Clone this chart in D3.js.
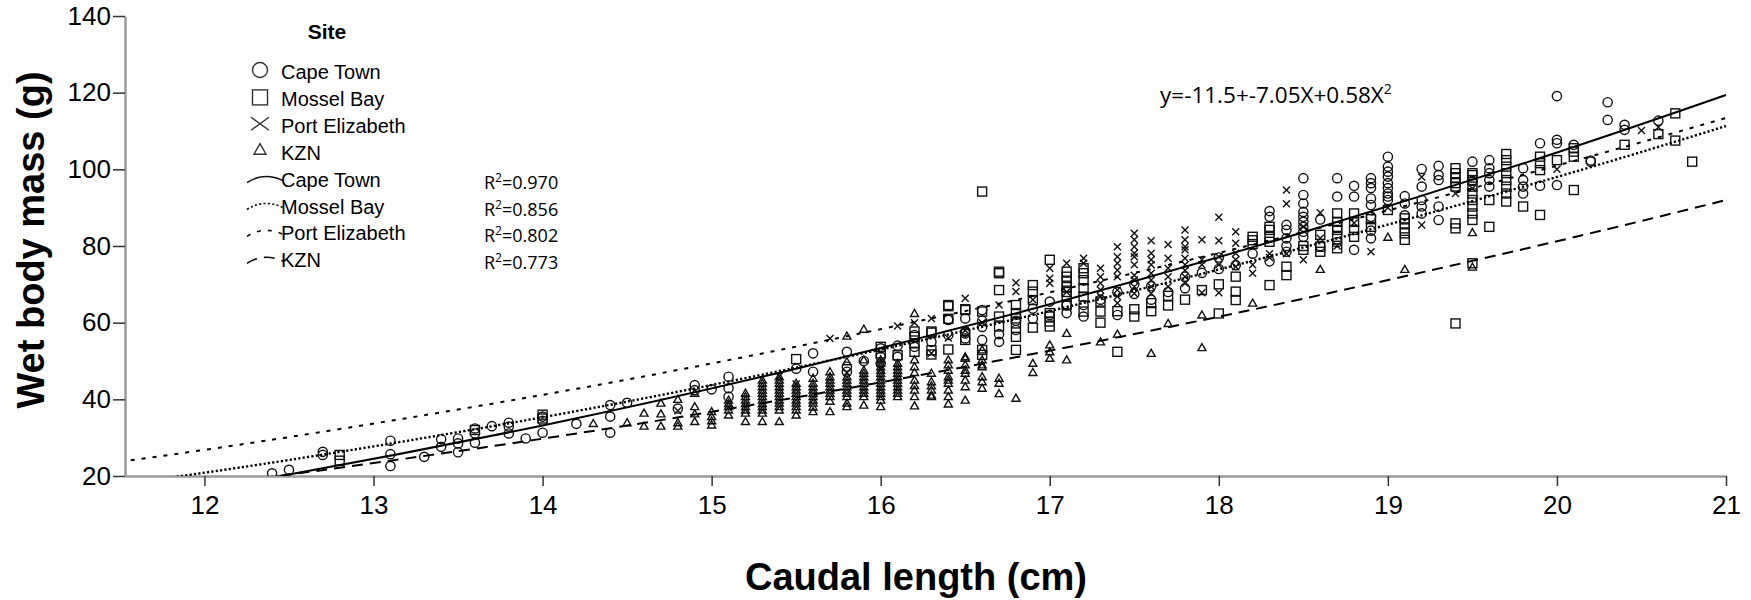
<!DOCTYPE html>
<html>
<head>
<meta charset="utf-8">
<script src="https://cdn.jsdelivr.net/npm/d3@7"></script>
<style>
  body { margin: 0; background: #fff; }
  svg { display: block; font-family: "Liberation Sans", Arial, sans-serif; }
</style>
</head>
<body>
<svg id="svg" width="1751" height="600"></svg>
<script>
// columns of points: [caudal length, [wet masses...]]
const capeTown = [
  [12.4, [20.7]], [12.5, [21.6]], [12.7, [26.3, 25.5]], [13.1, [29.2, 25.7, 22.6]],
  [13.3, [25.0]], [13.4, [29.6, 27.6]], [13.5, [29.8, 28.5, 26.2]], [13.6, [32.4, 31.1, 28.7]],
  [13.7, [33.0]], [13.8, [33.9, 32.9, 31.1]], [13.9, [29.8]], [14.0, [35.5, 34.4, 31.3]],
  [14.2, [33.6]], [14.4, [38.5, 35.5, 31.3]], [14.5, [39.1]], [14.8, [37.6]],
  [14.9, [43.7, 42.4]], [15.0, [42.6]], [15.1, [45.9, 42.9, 40.7]], [15.5, [48.0]],
  [15.6, [52.0, 47.2]], [15.8, [52.4, 48.5, 47.2]], [15.9, [50.0]], [16.0, [53.3, 51.1, 49.4]],
  [16.1, [51.1, 54.0]], [16.2, [56.8, 53.7]], [16.3, [55.0]], [16.4, [60.9, 60.7, 56.8]],
  [16.5, [61.1, 57.6, 57.2, 55.9]], [16.6, [63.3, 60.5, 58.9, 55.5]], [16.7, [57.0, 55.0]],
  [16.8, [60.5, 58.1]], [16.9, [63.7, 61.1]], [17.0, [65.5, 62.0]], [17.1, [64.5, 62.5]],
  [17.2, [64.6, 61.6]], [17.3, [66.0]], [17.4, [68.0, 62.0]], [17.5, [70.0, 67.5]],
  [17.6, [69.5, 66.0]], [17.7, [68.0]], [17.8, [72.0, 69.0]], [17.9, [73.0]],
  [18.0, [77.0, 74.0]], [18.1, [75.0]], [18.2, [78.0]], [18.3, [89.1, 87.6, 76.0]],
  [18.4, [85.5, 84.2, 82.0, 80.0, 78.5]], [18.5, [97.7, 93.3, 91.1, 88.9, 87.6, 86.3, 85.0, 83.7, 82.4]],
  [18.6, [86.9, 80.0]], [18.7, [97.7, 92.9, 81.0]], [18.8, [95.7, 92.9, 79.0]],
  [18.9, [97.7, 96.4, 95.1, 92.4, 90.7, 87.6, 84.0, 82.0]],
  [19.0, [103.3, 100.7, 99.4, 98.1, 96.4, 95.1, 93.7, 92.9, 92.0]],
  [19.1, [93.0, 91.1, 88.0]], [19.2, [100.1, 95.5, 92.0, 90.3, 88.5]],
  [19.3, [100.9, 98.5, 97.2, 90.3, 86.8]], [19.5, [102.0, 97.0]],
  [19.6, [102.4, 100.3, 99.0, 97.2, 95.5]], [19.8, [100.3, 97.2, 95.5, 93.7]],
  [19.9, [106.8, 95.7]], [20.0, [119.1, 107.7, 106.8, 95.9]], [20.1, [106.4]],
  [20.2, [102.3, 102.0]], [20.3, [117.5, 112.9]], [20.4, [111.6, 110.3]], [20.6, [112.7]]
];
const mosselBay = [
  [12.8, [25.5, 24.0]], [13.6, [32.0]], [14.0, [36.0, 35.0]], [15.5, [50.5]],
  [16.0, [53.7, 52.0]], [16.1, [51.5]], [16.2, [57.7, 56.3, 54.6, 52.4]],
  [16.3, [57.7, 57.4, 52.8, 51.7]], [16.4, [64.6, 64.3, 61.0, 53.0]], [16.5, [63.5, 63.3, 55.5]],
  [16.6, [94.2, 62.9, 52.9, 51.6]], [16.7, [73.3, 72.9, 68.5, 61.6, 59.0]],
  [16.8, [64.6, 62.5, 61.1, 59.8, 56.3, 52.9]], [16.9, [69.8, 68.1, 65.9, 58.7]],
  [17.0, [76.4, 62.5, 61.6, 60.3, 59.0]], [17.1, [73.3, 72.0, 70.7, 69.3, 68.0, 66.8, 64.6]],
  [17.2, [74.2, 72.9, 71.1, 69.0, 66.8, 62.9]], [17.3, [65.5, 62.9, 60.0]], [17.4, [63.0, 52.4]],
  [17.5, [63.5, 61.6]], [17.6, [65.1, 63.0]], [17.7, [67.0, 64.5]], [17.8, [66.0]],
  [17.9, [68.5]], [18.0, [70.0, 62.4]], [18.1, [72.0, 68.1, 65.9]], [18.2, [82.4, 81.5, 80.5]],
  [18.3, [85.0, 84.2, 82.4, 81.1, 69.8]], [18.4, [74.6, 72.4]], [18.5, [80.0, 79.0]],
  [18.6, [82.9, 79.8, 78.5]], [18.7, [88.5, 86.3, 85.0, 84.2, 82.4, 79.4]],
  [18.8, [88.5, 86.3, 84.2, 82.4]], [18.9, [87.0, 85.0]], [19.0, [89.4]],
  [19.1, [87.2, 85.9, 84.6, 83.3, 81.6]], [19.4, [100.3, 99.0, 97.7, 96.4, 95.5, 85.9, 84.6, 59.8]],
  [19.5, [99.0, 98.5, 97.2, 95.5, 93.7, 92.0, 90.3, 88.5, 86.8, 75.5]], [19.6, [92.0, 85.0]],
  [19.7, [104.0, 102.4, 100.7, 99.0, 97.2, 95.5, 93.7, 91.6]], [19.8, [90.3]],
  [19.9, [103.3, 101.6, 99.8, 88.1]], [20.0, [102.4]], [20.1, [105.5, 104.6, 103.3, 94.6]],
  [20.4, [106.4]], [20.6, [109.2]], [20.7, [114.6, 107.5]], [20.8, [102.0]]
];
const portElizabeth = [
  [14.8, [37.0]], [15.4, [46.0]], [15.5, [44.0]], [15.7, [55.9]], [15.8, [47.0]], [16.0, [48.0]],
  [16.1, [59.1]], [16.2, [60.0]], [16.3, [61.1, 52.0]], [16.4, [56.0]], [16.5, [66.4, 58.0]],
  [16.6, [60.0]], [16.7, [64.6]], [16.8, [70.4, 68.1]], [16.9, [66.0]], [17.0, [74.2, 71.6, 70.3]],
  [17.1, [75.5, 68.0]], [17.2, [76.8, 75.5]], [17.3, [74.2, 72.0, 70.3, 68.5, 66.8]],
  [17.4, [79.8, 77.2, 75.5, 73.7, 72.0, 68.5, 66.8, 65.1]],
  [17.5, [83.3, 81.6, 79.8, 78.1, 77.2, 75.1, 72.4, 71.1, 69.4, 67.6]],
  [17.6, [81.4, 78.1, 76.4, 75.1, 72.9, 71.1, 69.4, 67.6]], [17.7, [80.4, 76.8, 74.2, 72.0, 69.4]],
  [17.8, [84.2, 81.6, 79.8, 79.0, 76.8, 75.1, 73.7, 72.0, 70.3]], [17.9, [81.6, 76.4, 75.1, 67.8]],
  [18.0, [87.5, 81.4, 77.2, 75.1, 67.8]], [18.1, [83.7, 80.7, 78.1, 76.4, 74.6]],
  [18.2, [75.1, 72.9]], [18.3, [78.0, 77.0]], [18.4, [94.6, 91.0, 78.0]], [18.5, [85.0, 76.4]],
  [18.6, [88.7, 82.0]], [18.7, [80.0]], [18.8, [86.0]], [18.9, [78.5]], [19.0, [90.0]],
  [19.2, [98.0, 85.5]], [19.4, [93.7]], [19.5, [95.0]], [20.0, [100.0]], [20.5, [110.1]], [20.6, [111.0]]
];
const kzn = [
  [14.3, [33.7]], [14.5, [33.9]], [14.6, [36.4, 33.0]], [14.7, [39.0, 36.2, 33.0]],
  [14.8, [40.0, 33.9, 33.0]], [14.9, [41.6, 38.1, 36.2, 34.2]], [15.0, [36.8, 35.5, 34.4, 33.3]],
  [15.1, [39.8, 38.9, 38.1, 37.2, 35.9]], [15.2, [41.6, 40.7, 39.8, 38.9, 38.1, 37.2, 36.4, 34.2]],
  [15.3, [45.0, 44.2, 43.3, 42.4, 41.6, 40.7, 39.8, 38.9, 38.1, 37.2, 36.4, 34.2]],
  [15.4, [45.9, 45.0, 44.2, 43.3, 42.4, 41.6, 40.7, 39.8, 39.0, 38.1, 37.2, 34.2]],
  [15.5, [44.2, 43.3, 42.4, 41.6, 40.7, 39.8, 39.0, 38.1, 37.2, 35.9]],
  [15.6, [45.5, 44.2, 43.3, 42.4, 41.6, 40.7, 39.8, 39.0, 38.0, 36.8]],
  [15.7, [47.2, 45.9, 45.0, 44.2, 43.3, 42.4, 41.6, 40.7, 39.5, 36.8]],
  [15.8, [56.5, 49.8, 45.9, 45.0, 44.2, 43.3, 42.4, 41.6, 40.7, 39.0, 38.1]],
  [15.9, [58.3, 50.3, 47.6, 46.8, 45.9, 45.0, 44.2, 43.3, 42.4, 41.6, 40.7, 38.5]],
  [16.0, [50.3, 49.4, 48.5, 47.6, 46.8, 45.9, 45.0, 44.2, 43.3, 42.4, 41.6, 40.7, 39.8, 38.1]],
  [16.1, [49.4, 48.5, 47.6, 46.8, 45.9, 45.0, 44.2, 43.3, 42.4, 41.6, 40.7]],
  [16.2, [62.4, 50.3, 48.5, 47.0, 45.0, 43.6, 42.4, 40.7, 38.3]], [16.3, [46.8, 44.6, 43.5, 42.4, 41.1, 40.7]],
  [16.4, [50.3, 49.0, 47.6, 45.9, 45.0, 44.2, 42.4, 40.7, 38.8]],
  [16.5, [51.1, 50.7, 49.0, 47.6, 46.8, 45.0, 43.3, 39.8]],
  [16.6, [52.9, 50.3, 49.0, 48.5, 45.9, 44.6, 42.9]], [16.7, [45.5, 44.2, 41.5]], [16.8, [40.3]],
  [16.9, [49.4, 47.0]], [17.0, [54.2, 52.4, 50.7]], [17.1, [57.2, 50.3]], [17.3, [55.0]],
  [17.4, [57.0]], [17.6, [52.0]], [17.7, [59.8]], [17.9, [62.0, 53.5]], [18.2, [65.1]],
  [18.6, [73.9]], [19.0, [82.3]], [19.1, [73.9]], [19.5, [83.5, 74.5]]
];

// fitted curves at these lengths
const curveX = [11.5, 12.5, 14, 15.5, 17, 18.5, 20, 21];
const fitCapeTown = [12.97, 20.39, 33.19, 48.0, 64.8, 83.6, 104.4, 119.4];
const fitMosselBay = [17.77, 24.18, 35.32, 48.28, 63.04, 79.62, 98.01, 111.3];
const fitPortElizabeth = [23.69, 30.15, 41.16, 53.75, 67.91, 83.65, 100.98, 113.4];
const fitKzn = [14.93, 20.38, 29.74, 40.51, 52.68, 66.25, 81.24, 92.0];

const sites = ['Cape Town', 'Mossel Bay', 'Port Elizabeth', 'KZN'];
const rSquared = ['0.970', '0.856', '0.802', '0.773'];
const xTicks = [12, 13, 14, 15, 16, 17, 18, 19, 20, 21];
const yTicks = [20, 40, 60, 80, 100, 120, 140];
const equation = 'y=-11.5+-7.05X+0.58X';

const svg = d3.select('#svg');
svg.append('rect').attr('width', 1751).attr('height', 600).style('fill', '#fff');

const x = d3.scaleLinear().domain([11.53, 21]).range([125, 1726]);
const y = d3.scaleLinear().domain([20, 140]).range([476, 16]);

svg.append('defs').append('clipPath').attr('id', 'plot')
  .append('rect').attr('x', 125).attr('y', 14).attr('width', 1603).attr('height', 462);

// axes
const yAxis = svg.append('g').attr('transform', 'translate(125,0)')
  .call(d3.axisLeft(y).tickValues(yTicks).tickSize(12).tickSizeOuter(0).tickPadding(2));
const xAxis = svg.append('g').attr('transform', 'translate(0,476)')
  .call(d3.axisBottom(x).tickValues(xTicks).tickSize(10).tickSizeOuter(0).tickPadding(10));
[xAxis, yAxis].forEach(a => {
  a.select('.domain').style('stroke', '#9a9a9a').style('stroke-width', 2.5);
  a.selectAll('.tick line').style('stroke', '#333').style('stroke-width', 1.5);
  a.selectAll('.tick text').style('font-size', '26px').style('fill', '#000')
    .style('font-family', '"Liberation Sans", Arial, sans-serif');
});

svg.append('text').attr('transform', 'translate(44,240) rotate(-90)')
  .attr('text-anchor', 'middle').style('font-size', '38px').style('font-weight', 'bold')
  .text('Wet body mass (g)');
svg.append('text').attr('x', 916).attr('y', 590)
  .attr('text-anchor', 'middle').style('font-size', '38px').style('font-weight', 'bold')
  .text('Caudal length (cm)');

// points
const flat = cols => cols.flatMap(([xv, ys]) => ys.map(yv => ({ x: xv, y: yv })));
const pts = svg.append('g').attr('clip-path', 'url(#plot)')
  .style('fill', 'none').style('stroke', '#111').style('stroke-width', 1.4);

const triPath = (cx, cy, s) => `M${cx},${cy - s}L${cx + s},${cy + s * 0.75}L${cx - s},${cy + s * 0.75}Z`;
const crossPath = (cx, cy, w, h) =>
  `M${cx - w},${cy - h}L${cx + w},${cy + h}M${cx - w},${cy + h}L${cx + w},${cy - h}`;

pts.selectAll('.kzn').data(flat(kzn)).join('path')
  .attr('d', d => triPath(x(d.x), y(d.y), 4));
pts.selectAll('.pe').data(flat(portElizabeth)).join('path')
  .attr('d', d => crossPath(x(d.x), y(d.y), 3.5, 3.5));
pts.selectAll('.mb').data(flat(mosselBay)).join('rect')
  .attr('x', d => x(d.x) - 4.5).attr('y', d => y(d.y) - 4.5)
  .attr('width', 9).attr('height', 9);
pts.selectAll('.ct').data(flat(capeTown)).join('circle')
  .attr('cx', d => x(d.x)).attr('cy', d => y(d.y)).attr('r', 4.6);

// fit lines
const dashes = [null, '2.2,2.2', '4,7', '11,7'];
const fits = [fitCapeTown, fitMosselBay, fitPortElizabeth, fitKzn];
const line = d3.line().x(d => x(d[0])).y(d => y(d[1])).curve(d3.curveNatural);
const lines = svg.append('g').attr('clip-path', 'url(#plot)');
fits.forEach((f, i) => {
  lines.append('path').datum(curveX.map((xv, j) => [xv, f[j]]))
    .attr('d', line)
    .style('fill', 'none').style('stroke', '#000').style('stroke-width', i === 1 ? 2.4 : 2)
    .style('stroke-dasharray', dashes[i]);
});

// legend
const lg = svg.append('g');
lg.append('text').attr('x', 327).attr('y', 39).attr('text-anchor', 'middle')
  .style('font-size', '21px').style('font-weight', 'bold').text('Site');
const rowY = i => 79 + i * 26.9;
const symStyle = s => s.style('fill', 'none').style('stroke', '#333').style('stroke-width', 1.4);

symStyle(lg.append('circle').attr('cx', 260).attr('cy', rowY(0) - 9).attr('r', 7.5));
symStyle(lg.append('rect').attr('x', 252.5).attr('y', rowY(1) - 16).attr('width', 15).attr('height', 15));
symStyle(lg.append('path').attr('d', crossPath(260, rowY(2) - 9, 9, 6.5)));
symStyle(lg.append('path').attr('d', triPath(260, rowY(3) - 10, 6)));

sites.forEach((s, i) => {
  lg.append('text').attr('x', 281).attr('y', rowY(i)).style('font-size', '20px').text(s);
  const ly = rowY(i + 4) - 8;
  lg.append('path').attr('d', `M247,${ly + 4}Q264,${ly - 7} 283,${ly + 2}`)
    .style('fill', 'none').style('stroke', '#111').style('stroke-width', 1.6)
    .style('stroke-dasharray', dashes[i]);
  lg.append('text').attr('x', 281).attr('y', rowY(i + 4)).style('font-size', '20px').text(s);
  const r = lg.append('text').attr('x', 484).attr('y', rowY(i + 4) + 2)
    .style('font-family', '"Open Sans", sans-serif').style('font-size', '18px');
  r.append('tspan').text('R');
  r.append('tspan').attr('dy', -7).style('font-size', '12px').text('2');
  r.append('tspan').attr('dy', 7).text('=' + rSquared[i]);
});

const eq = svg.append('text').attr('x', 1160).attr('y', 103)
  .style('font-family', '"Open Sans", sans-serif').style('font-size', '22.5px');
eq.append('tspan').text(equation);
eq.append('tspan').attr('dy', -9).style('font-size', '14px').text('2');
</script>
</body>
</html>
